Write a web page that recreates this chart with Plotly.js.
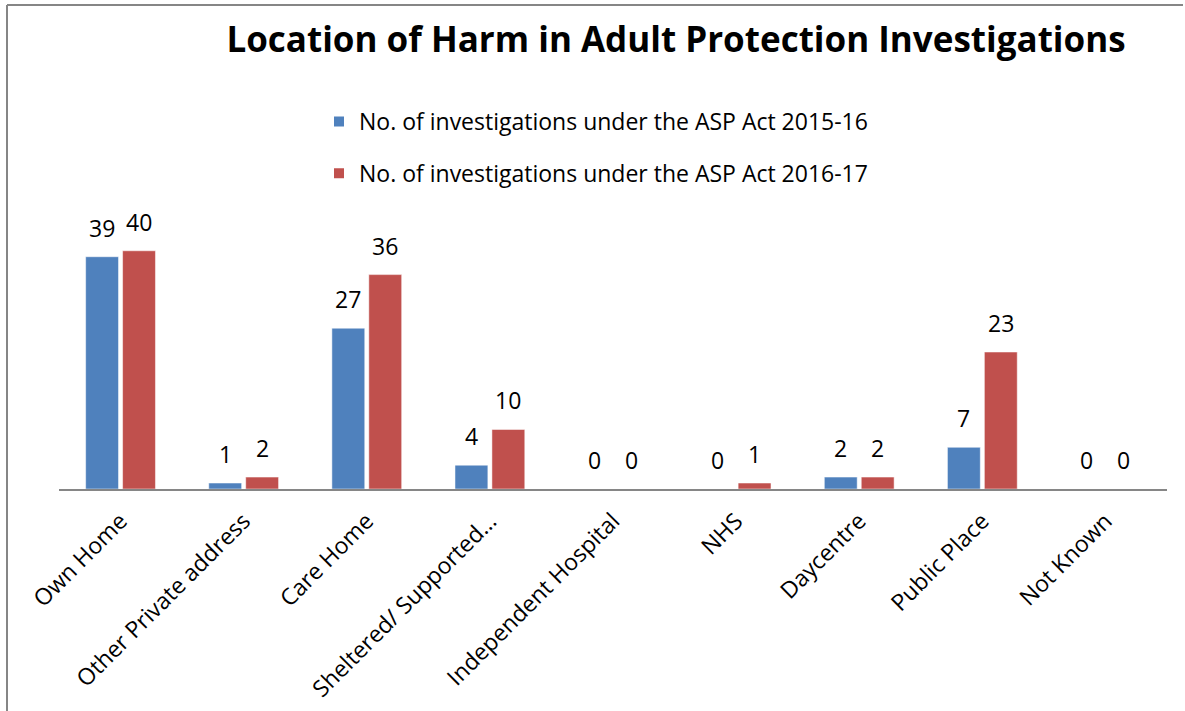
<!DOCTYPE html>
<html>
<head>
<meta charset="utf-8">
<script src="https://cdn.plot.ly/plotly-3.0.1.min.js"></script>
<style>html,body{margin:0;padding:0;background:#fff;}#chart{width:1185px;height:711px;}</style>
</head>
<body>
<div id="chart"></div>
<script>
const categories = ["Own Home", "Other Private address", "Care Home", "Sheltered/ Supported…", "Independent Hospital", "NHS", "Daycentre", "Public Place", "Not Known"];
const seriesNames = ["No. of investigations under the ASP Act 2015-16", "No. of investigations under the ASP Act 2016-17"];
const values2015 = [39, 1, 27, 4, 0, 0, 2, 7, 0];
const values2016 = [40, 2, 36, 10, 0, 1, 2, 23, 0];
const colors = ["#4F81BD", "#C0504D"];

const FONT = "Open Sans, Liberation Sans, sans-serif";
const W = 1185, H = 711;
const L = 59, R = 18, B = 222, T = 221;
const plotW = W - L - R, plotH = H - T - B;
const px2x = p => (p - L) / plotW;
const px2y = p => (H - B - p) / plotH;

const traces = [values2015, values2016].map((vals, i) => ({
  type: "bar",
  name: seriesNames[i],
  legendgroup: "g" + i,
  x: categories,
  y: vals,
  marker: {color: colors[i], line: {color: "#ffffff", width: 0.5}},
  hoverinfo: "x+y"
}));

const slot = plotW / categories.length * 0.6 / 2;
const annotations = [];
[values2015, values2016].forEach((vals, i) => {
  vals.forEach((v, j) => {
    annotations.push({
      x: categories[j], y: v, xref: "x", yref: "y",
      text: String(v), showarrow: false,
      xshift: (i === 0 ? -1 : 1) * slot / 2,
      yanchor: "bottom", yshift: 11,
      font: {family: FONT, size: 23, color: "#000"}
    });
  });
});

const layout = {
  width: W, height: H,
  paper_bgcolor: "#ffffff", plot_bgcolor: "#ffffff",
  margin: {l: L, r: R, t: T, b: B, pad: 0},
  title: {
    text: "<b>Location of Harm in Adult Protection Investigations</b>",
    font: {family: FONT, size: 35, color: "#000"},
    x: 676 / W, xanchor: "center", xref: "container",
    y: 1 - 40 / H, yanchor: "middle", yref: "container"
  },
  barmode: "group", bargap: 0.4, bargroupgap: 0.11,
  xaxis: {
    type: "category", tickangle: -45,
    tickfont: {family: FONT, size: 23, color: "#000"},
    ticklabelstandoff: 8,
    showline: true, linecolor: "#868686", linewidth: 1.5,
    ticks: "", showgrid: false, zeroline: false
  },
  yaxis: {
    range: [0, 45], visible: false, showgrid: false, zeroline: false, fixedrange: true
  },
  showlegend: true,
  legend: {
    x: px2x(319), xanchor: "left",
    y: px2y(100), yanchor: "top",
    orientation: "v", traceorder: "grouped", tracegroupgap: 19, itemsizing: "constant",
    font: {family: FONT, size: 23, color: "#000"},
    bgcolor: "rgba(0,0,0,0)"
  },
  annotations: annotations,
  shapes: [
    {type: "line", xref: "paper", yref: "paper", x0: px2x(7), x1: px2x(1183), y0: px2y(5), y1: px2y(5), line: {color: "#868686", width: 2}},
    {type: "line", xref: "paper", yref: "paper", x0: px2x(7), x1: px2x(7), y0: px2y(5), y1: px2y(715), line: {color: "#868686", width: 2}}
  ]
};

Plotly.newPlot("chart", traces, layout, {displayModeBar: false, staticPlot: true});
</script>
</body>
</html>
